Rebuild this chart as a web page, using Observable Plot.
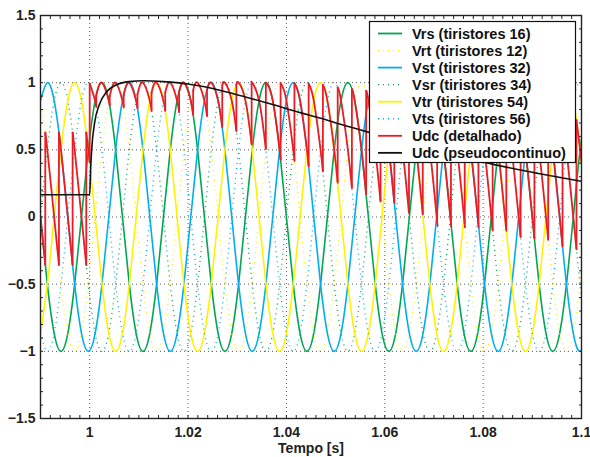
<!DOCTYPE html>
<html><head><meta charset="utf-8">
<script src="https://cdn.jsdelivr.net/npm/d3@7"></script>
<script src="https://cdn.jsdelivr.net/npm/@observablehq/plot@0.6"></script>
<style>
html,body{margin:0;padding:0;background:#fff;}
#chart{width:590px;height:457px;}
</style></head><body><div id="chart"></div>
<script>
// Time grid (every 30 electrical degrees, 60 Hz)
const tGrid = [
0.990000,0.991389,0.992778,0.994167,0.995556,0.996944,0.998333,0.999722,1.001111,1.002500,1.003889,1.005278,
1.006667,1.008056,1.009444,1.010833,1.012222,1.013611,1.015000,1.016389,1.017778,1.019167,1.020556,1.021944,
1.023333,1.024722,1.026111,1.027500,1.028889,1.030278,1.031667,1.033056,1.034444,1.035833,1.037222,1.038611,
1.040000,1.041389,1.042778,1.044167,1.045556,1.046944,1.048333,1.049722,1.051111,1.052500,1.053889,1.055278,
1.056667,1.058056,1.059444,1.060833,1.062222,1.063611,1.065000,1.066389,1.067778,1.069167,1.070556,1.071944,
1.073333,1.074722,1.076111,1.077500,1.078889,1.080278,1.081667,1.083056,1.084444,1.085833,1.087222,1.088611,
1.090000,1.091389,1.092778,1.094167,1.095556,1.096944,1.098333,1.099722,1.101111];

const vrs = [
0,-0.5,-0.866,-1,-0.866,-0.5,0,0.5,0.866,1,0.866,0.5,
0,-0.5,-0.866,-1,-0.866,-0.5,0,0.5,0.866,1,0.866,0.5,
0,-0.5,-0.866,-1,-0.866,-0.5,0,0.5,0.866,1,0.866,0.5,
0,-0.5,-0.866,-1,-0.866,-0.5,0,0.5,0.866,1,0.866,0.5,
0,-0.5,-0.866,-1,-0.866,-0.5,0,0.5,0.866,1,0.866,0.5,
0,-0.5,-0.866,-1,-0.866,-0.5,0,0.5,0.866,1,0.866,0.5,
0,-0.5,-0.866,-1,-0.866,-0.5,0,0.5,0.866];
const vsr = [
0,0.5,0.866,1,0.866,0.5,0,-0.5,-0.866,-1,-0.866,-0.5,
0,0.5,0.866,1,0.866,0.5,0,-0.5,-0.866,-1,-0.866,-0.5,
0,0.5,0.866,1,0.866,0.5,0,-0.5,-0.866,-1,-0.866,-0.5,
0,0.5,0.866,1,0.866,0.5,0,-0.5,-0.866,-1,-0.866,-0.5,
0,0.5,0.866,1,0.866,0.5,0,-0.5,-0.866,-1,-0.866,-0.5,
0,0.5,0.866,1,0.866,0.5,0,-0.5,-0.866,-1,-0.866,-0.5,
0,0.5,0.866,1,0.866,0.5,0,-0.5,-0.866];
const vst = [
0.866,1,0.866,0.5,0,-0.5,-0.866,-1,-0.866,-0.5,0,0.5,
0.866,1,0.866,0.5,0,-0.5,-0.866,-1,-0.866,-0.5,0,0.5,
0.866,1,0.866,0.5,0,-0.5,-0.866,-1,-0.866,-0.5,0,0.5,
0.866,1,0.866,0.5,0,-0.5,-0.866,-1,-0.866,-0.5,0,0.5,
0.866,1,0.866,0.5,0,-0.5,-0.866,-1,-0.866,-0.5,0,0.5,
0.866,1,0.866,0.5,0,-0.5,-0.866,-1,-0.866,-0.5,0,0.5,
0.866,1,0.866,0.5,0,-0.5,-0.866,-1,-0.866];
const vts = [
-0.866,-1,-0.866,-0.5,0,0.5,0.866,1,0.866,0.5,0,-0.5,
-0.866,-1,-0.866,-0.5,0,0.5,0.866,1,0.866,0.5,0,-0.5,
-0.866,-1,-0.866,-0.5,0,0.5,0.866,1,0.866,0.5,0,-0.5,
-0.866,-1,-0.866,-0.5,0,0.5,0.866,1,0.866,0.5,0,-0.5,
-0.866,-1,-0.866,-0.5,0,0.5,0.866,1,0.866,0.5,0,-0.5,
-0.866,-1,-0.866,-0.5,0,0.5,0.866,1,0.866,0.5,0,-0.5,
-0.866,-1,-0.866,-0.5,0,0.5,0.866,1,0.866];
const vtr = [
-0.866,-0.5,0,0.5,0.866,1,0.866,0.5,0,-0.5,-0.866,-1,
-0.866,-0.5,0,0.5,0.866,1,0.866,0.5,0,-0.5,-0.866,-1,
-0.866,-0.5,0,0.5,0.866,1,0.866,0.5,0,-0.5,-0.866,-1,
-0.866,-0.5,0,0.5,0.866,1,0.866,0.5,0,-0.5,-0.866,-1,
-0.866,-0.5,0,0.5,0.866,1,0.866,0.5,0,-0.5,-0.866,-1,
-0.866,-0.5,0,0.5,0.866,1,0.866,0.5,0,-0.5,-0.866,-1,
-0.866,-0.5,0,0.5,0.866,1,0.866,0.5,0];
const vrt = [
0.866,0.5,0,-0.5,-0.866,-1,-0.866,-0.5,0,0.5,0.866,1,
0.866,0.5,0,-0.5,-0.866,-1,-0.866,-0.5,0,0.5,0.866,1,
0.866,0.5,0,-0.5,-0.866,-1,-0.866,-0.5,0,0.5,0.866,1,
0.866,0.5,0,-0.5,-0.866,-1,-0.866,-0.5,0,0.5,0.866,1,
0.866,0.5,0,-0.5,-0.866,-1,-0.866,-0.5,0,0.5,0.866,1,
0.866,0.5,0,-0.5,-0.866,-1,-0.866,-0.5,0,0.5,0.866,1,
0.866,0.5,0,-0.5,-0.866,-1,-0.866,-0.5,0];

// Udc (detalhado): commutation instants, segment start/end values, voltage followed
const redT = [0.99,0.990972,0.99375,0.996528,0.999306,1.0,1.001338,1.004069,1.006912,1.009718,
1.012583,1.015361,1.018181,1.021042,1.023861,1.026954,1.029824,1.032931,1.035819,1.038819,
1.04163,1.044523,1.047417,1.050426,1.053315,1.056213,1.059139,1.06194,1.064921,1.067727,
1.070648,1.073454,1.076259,1.079046,1.081931,1.084708,1.08762,1.090426,1.093231,1.096144,
1.098977,1.1];
const redStart = [0,0.629,0.629,0.629,0.629,0.995,0.906,0.898,0.908,0.913,
0.926,0.926,0.932,0.943,0.948,0.979,0.985,0.999,1.0,0.997,
0.996,0.991,0.984,0.965,0.953,0.939,0.918,0.914,0.880,0.875,
0.848,0.842,0.837,0.835,0.812,0.812,0.782,0.775,0.768,0.735,0.721];
const redEnd = [-0.358,-0.358,-0.358,-0.358,0.407,0.820,0.830,0.816,0.810,0.790,
0.790,0.780,0.760,0.750,0.667,0.640,0.540,0.505,0.431,0.419,
0.379,0.339,0.255,0.215,0.170,0.115,0.106,0.030,0.019,-0.035,
-0.045,-0.056,-0.059,-0.099,-0.099,-0.150,-0.160,-0.170,-0.220,-0.240,0.407];
const redSrc = ["Vrs","Vrt","Vst","Vsr","Vtr","Vts","Vrs","Vrt","Vst","Vsr",
"Vtr","Vts","Vrs","Vrt","Vst","Vsr","Vtr","Vts","Vrs","Vrt",
"Vst","Vsr","Vtr","Vts","Vrs","Vrt","Vst","Vsr","Vtr","Vts",
"Vrs","Vrt","Vst","Vsr","Vtr","Vts","Vrs","Vrt","Vst","Vsr","Vtr"];

// Udc (pseudocontinuo)
const blackT = [0.99,1.0,1.0002,1.0004,1.001,1.002,1.0034,1.0055,1.008,1.011,1.015,1.02,1.0225,
1.0292,1.036,1.043,1.047,1.051,1.0568,1.063,1.07,1.076,1.0823,1.0904,1.1];
const blackV = [0.166,0.166,0.36,0.50,0.70,0.84,0.93,0.985,1.008,1.014,1.008,0.99,0.975,
0.918,0.85,0.775,0.735,0.69,0.63,0.57,0.50,0.445,0.39,0.33,0.265];

const xTicks = [1,1.02,1.04,1.06,1.08,1.1];
const xTickLabels = ["1","1.02","1.04","1.06","1.08","1.1"];
const yTicks = [-1.5,-1,-0.5,0,0.5,1,1.5];
const yTickLabels = ["\u22121.5","\u22121","\u22120.5","0","0.5","1","1.5"];
const xTitle = "Tempo [s]";
const legendLabels = ["Vrs (tiristores 16)","Vrt (tiristores 12)","Vst (tiristores 32)","Vsr (tiristores 34)",
"Vtr (tiristores 54)","Vts (tiristores 56)","Udc (detalhado)","Udc (pseudocontinuo)"];

const green="#00a651", yellow="#fff200", cyan="#00aeef", red="#ed1c24", black="#111";
const series = [
  {key:"Vrs", values:vrs, color:green, dotted:false},
  {key:"Vrt", values:vrt, color:yellow, dotted:true},
  {key:"Vst", values:vst, color:cyan, dotted:false},
  {key:"Vsr", values:vsr, color:green, dotted:true},
  {key:"Vtr", values:vtr, color:yellow, dotted:false},
  {key:"Vts", values:vts, color:cyan, dotted:true}
];
const lookup = Object.fromEntries(series.map(s => [s.key, s.values]));

const redPts = [], redJumps = [];
for (let i = 0; i < redSrc.length; i++) {
  const t0 = redT[i], t1 = redT[i+1], src = lookup[redSrc[i]];
  redPts.push({seg:i, t:t0, v:redStart[i]});
  tGrid.forEach((t,k) => { if (t > t0 + 2e-5 && t < t1 - 2e-5) redPts.push({seg:i, t, v:src[k]}); });
  redPts.push({seg:i, t:t1, v:redEnd[i]});
  if (i > 0) redJumps.push({t:t0, lo:redEnd[i-1], hi:redStart[i]});
}
const blackPts = blackT.map((t,i) => ({t, v:blackV[i]}));

const xMinor = d3.range(0, 56).map(i => +(0.99 + i*0.002).toFixed(3));
const yMinor = d3.range(-15, 16).map(i => +(i*0.1).toFixed(1));
const xFmt = new Map(xTicks.map((d,i) => [d, xTickLabels[i]]));
const yFmt = new Map(yTicks.map((d,i) => [d, yTickLabels[i]]));

const gridStyle = {stroke:"#000", strokeOpacity:0.65, strokeDasharray:"1,3", strokeWidth:1};
const tickStyle = {tickFormat: () => "", label: null, stroke:"#222", strokeWidth:1};

const chart = Plot.plot({
  width: 590, height: 457,
  marginLeft: 40, marginRight: 9, marginTop: 15, marginBottom: 39,
  style: {fontFamily: "'Liberation Sans', Arial, Helvetica, sans-serif", background: "#fff", overflow: "visible"},
  x: {domain: [0.99, 1.1], label: null},
  y: {domain: [-1.5, 1.5], label: null},
  marks: [
    Plot.gridX(xTicks, gridStyle),
    Plot.gridY(yTicks, gridStyle),
    ...series.map(s => Plot.line(tGrid.map((t,k) => ({t, v:s.values[k]})), {
      x:"t", y:"v", curve:"natural", stroke:s.color,
      strokeWidth: s.dotted ? 1.3 : 1.6,
      strokeDasharray: s.dotted ? "1,4" : null,
      strokeLinecap: s.dotted ? "butt" : "round",
      clip:true
    })),
    Plot.ruleX(redJumps, {x:"t", y1:"lo", y2:"hi", stroke:red, strokeWidth:1.8, clip:true}),
    Plot.line(redPts, {x:"t", y:"v", z:"seg", curve:"natural", stroke:red, strokeWidth:1.8, clip:true}),
    Plot.line(blackPts, {x:"t", y:"v", curve:"monotone-x", stroke:black, strokeWidth:1.6, clip:true}),
    Plot.axisX(xMinor, {anchor:"bottom", tickSize:-3, ...tickStyle}),
    Plot.axisX(xMinor, {anchor:"top", tickSize:-3, ...tickStyle}),
    Plot.axisY(yMinor, {anchor:"left", tickSize:-3, ...tickStyle}),
    Plot.axisY(yMinor, {anchor:"right", tickSize:-3, ...tickStyle}),
    Plot.axisX(xTicks, {anchor:"bottom", tickSize:0, tickPadding:9, tickFormat: d => xFmt.get(d), label:null, fontSize:14, fontWeight:"bold", fill:"#222"}),
    Plot.axisY(yTicks, {anchor:"left", tickSize:0, tickPadding:5, tickFormat: d => yFmt.get(d), label:null, fontSize:14, fontWeight:"bold", fill:"#222"}),
    Plot.frame({stroke:"#222", strokeWidth:1.4}),
    Plot.text([xTitle], {frameAnchor:"bottom", lineAnchor:"middle", dy:30, text: d => d, fontSize:14, fontWeight:"bold", fill:"#222"})
  ]
});
document.getElementById("chart").appendChild(chart);

// Legend inside the plot (upper right)
const legendStyles = [
  {color:green, dotted:false},{color:yellow, dotted:true},{color:cyan, dotted:false},{color:green, dotted:true},
  {color:yellow, dotted:false},{color:cyan, dotted:true},{color:red, dotted:false},{color:black, dotted:false}
];
const svg = d3.select(chart);
const lg = svg.append("g").attr("class","legend").attr("text-anchor","start");
lg.append("rect").attr("x",369.5).attr("y",21.5).attr("width",206).attr("height",141)
  .attr("fill","#fff").attr("stroke","#111").attr("stroke-width",1.2);
legendLabels.forEach((label,i) => {
  const y = 33.5 + i*17.05;
  const st = legendStyles[i];
  lg.append("line").attr("x1",378).attr("x2",402).attr("y1",y).attr("y2",y)
    .attr("stroke",st.color).attr("stroke-width", st.dotted ? 1.3 : 1.8)
    .attr("stroke-dasharray", st.dotted ? "1,4" : null);
  lg.append("text").attr("x",412).attr("y",y).attr("dy","0.36em").attr("text-anchor","start")
    .attr("font-family","'Liberation Sans', Arial, Helvetica, sans-serif")
    .attr("font-size",14.5).attr("font-weight","bold").attr("fill","#111").text(label);
});
</script>
</body></html>
